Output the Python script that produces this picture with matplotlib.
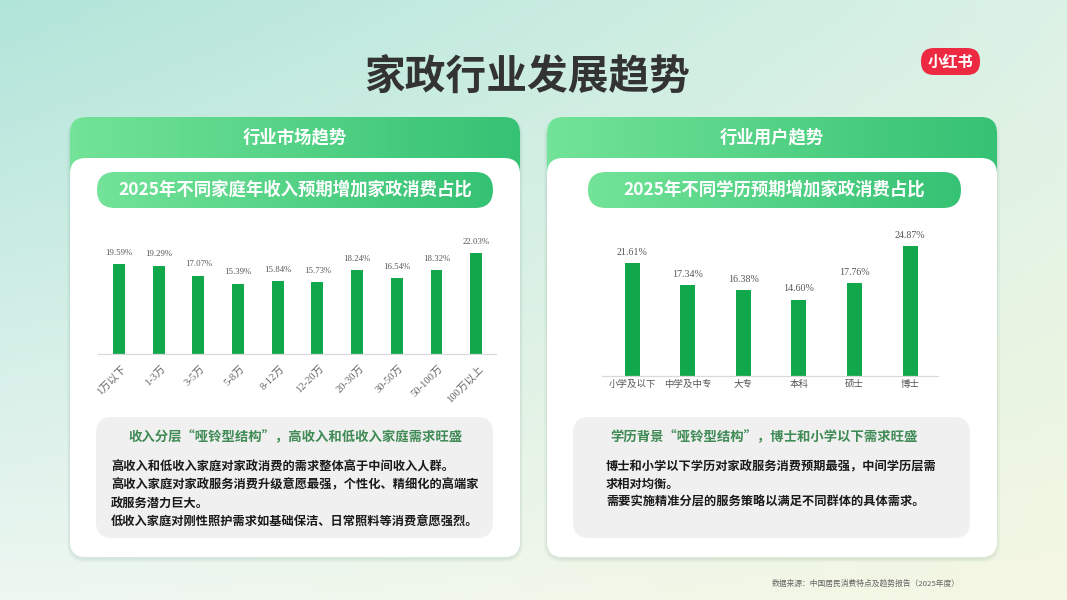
import matplotlib

matplotlib.use("Agg")
import matplotlib.pyplot as plt
import numpy as np
from matplotlib.colors import to_rgb
from matplotlib.patches import FancyBboxPatch

plt.rcParams["font.family"] = ["Noto Sans CJK SC", "DejaVu Sans"]

income_labels = ["1万以下", "1-3万", "3-5万", "5-8万", "8-12万", "12-20万",
                 "20-30万", "30-50万", "50-100万", "100万以上"]
income_values = [19.59, 19.29, 17.07, 15.39, 15.84, 15.73, 18.24, 16.54, 18.32, 22.03]

edu_labels = ["小学及以下", "中学及中专", "大专", "本科", "硕士", "博士"]
edu_values = [21.61, 17.34, 16.38, 14.60, 17.76, 24.87]

title = "家政行业发展趋势"
card_titles = ["行业市场趋势", "行业用户趋势"]
chart_titles = ["2025年不同家庭年收入预期增加家政消费占比", "2025年不同学历预期增加家政消费占比"]
box_heads = ["收入分层“哑铃型结构”，高收入和低收入家庭需求旺盛",
             "学历背景“哑铃型结构”，博士和小学以下需求旺盛"]
box_lines_left = ["高收入和低收入家庭对家政消费的需求整体高于中间收入人群。",
                  "高收入家庭对家政服务消费升级意愿最强，个性化、精细化的高端家",
                  "政服务潜力巨大。",
                  "低收入家庭对刚性照护需求如基础保洁、日常照料等消费意愿强烈。"]
box_lines_right = ["博士和小学以下学历对家政服务消费预期最强，中间学历层需",
                   "求相对均衡。",
                   "需要实施精准分层的服务策略以满足不同群体的具体需求。"]
source = "数据来源：中国居民消费特点及趋势报告（2025年度）"

W, H = 1067, 600
BAR = "#10a84a"
G1, G2 = "#72e398", "#36c274"
NUM_FONT = ["Liberation Serif", "Noto Sans CJK SC"]

fig = plt.figure(figsize=(W / 100, H / 100), dpi=100)
bg = fig.add_axes([0, 0, 1, 1])
bg.set_xlim(0, W)
bg.set_ylim(H, 0)
bg.axis("off")

# background gradient
c_tl, c_tr = np.array(to_rgb("#b2e5da")), np.array(to_rgb("#dcf2e6"))
c_bl, c_br = np.array(to_rgb("#eef7f2")), np.array(to_rgb("#f4f7e2"))
u = np.linspace(0, 1, 200)[None, :, None]
v = np.linspace(0, 1, 120)[:, None, None]
img = (1 - v) * ((1 - u) * c_tl + u * c_tr) + v * ((1 - u) * c_bl + u * c_br)
bg.imshow(img, extent=(0, W, H, 0), aspect="auto", zorder=0)


def rbox(x, y, w, h, r, fc, z=1, **kw):
    p = FancyBboxPatch((x, y), w, h, boxstyle=f"round,pad=0,rounding_size={r}",
                       fc=fc, ec="none", zorder=z, **kw)
    bg.add_patch(p)
    return p


def grad_box(x, y, w, h, r, c1, c2, z=2):
    p = rbox(x, y, w, h, r, "none", z)
    g = np.linspace(0, 1, 100)[None, :, None]
    arr = (1 - g) * np.array(to_rgb(c1)) + g * np.array(to_rgb(c2))
    im = bg.imshow(arr, extent=(x, x + w, y + h, y), aspect="auto", zorder=z)
    im.set_clip_path(p)


bg.text(527, 78, title, ha="center", va="center", fontsize=29.3, fontweight="bold", color="#333333")

# logo
rbox(921, 48, 59, 27, 13, "#ee2a42", 3)
bg.text(950.5, 61.5, "小红书", ha="center", va="center", fontsize=11, fontweight="bold", color="white", zorder=4)

for i, cx in enumerate([70, 547]):
    for k, a in enumerate([0.03, 0.03, 0.04]):
        rbox(cx - 3 + k, 119 - 1 + k, 456 - 2 * k, 444 - 2 * k, 18, "#2a6a50", 1, alpha=a)
    rbox(cx, 117, 450, 440, 16, "white", 2)
    grad_box(cx, 117, 450, 70, 16, G1, G2, z=2.5)
    rbox(cx, 158, 450, 399, 16, "white", 3)
    bg.text(cx + 225, 137, card_titles[i], ha="center", va="center", fontsize=12.5,
            fontweight="bold", color="white", zorder=4)

grad_box(97, 172, 396, 36, 18, G1, G2, z=4)
bg.text(295, 190, chart_titles[0], ha="center", va="center", fontsize=12.5,
        fontweight="bold", color="white", zorder=5)
grad_box(588, 172, 373, 36, 18, G1, G2, z=4)
bg.text(774.5, 190, chart_titles[1], ha="center", va="center", fontsize=12.5,
        fontweight="bold", color="white", zorder=5)

# text boxes
rbox(96, 417, 397, 121, 16, "#f0f0f0", 4)
rbox(573, 417, 397, 121, 16, "#f0f0f0", 4)
bg.text(295, 437, box_heads[0], ha="center", va="center", fontsize=9.6,
        fontweight="bold", color="#3f8a55", zorder=5)
bg.text(764, 437, box_heads[1], ha="center", va="center", fontsize=9.6,
        fontweight="bold", color="#3f8a55", zorder=5)
for line, y in zip(box_lines_left, [467, 485, 503, 522]):
    bg.text(111, y, line, ha="left", va="center", fontsize=8.8, fontweight="bold",
            color="#1a1a1a", zorder=5)
for line, y in zip(box_lines_right, [467, 484, 502]):
    bg.text(606, y, line, ha="left", va="center", fontsize=8.8, fontweight="bold",
            color="#1a1a1a", zorder=5)

bg.text(866, 584, source, ha="center", va="center", fontsize=5.6, color="#666666")


def px_axes(x0, x1, ytop, ybase):
    return fig.add_axes([x0 / W, 1 - ybase / H, (x1 - x0) / W, (ybase - ytop) / H], zorder=6)


def style(ax):
    ax.set_facecolor("none")
    for s in ["top", "right", "left"]:
        ax.spines[s].set_visible(False)
    ax.spines["bottom"].set_color("#d9d9d9")
    ax.spines["bottom"].set_linewidth(0.9)
    ax.set_yticks([])
    ax.tick_params(axis="x", length=0, pad=3)


# left chart
ax1 = px_axes(98, 496, 230, 354)
x1 = np.arange(len(income_values))
ax1.bar(x1, income_values, width=0.3, color=BAR)
ax1.set_xlim(-0.53, 9.5)
ax1.set_ylim(0, 124 / 4.58)
for xi, v in zip(x1, income_values):
    ax1.text(xi, v + 1.6, f"{v:.2f}%", ha="center", va="bottom", fontsize=6.3,
             color="#555555", family=NUM_FONT)
style(ax1)
ax1.tick_params(axis="x", pad=7)
ax1.set_xticks(x1 + 0.05)
ax1.set_xticklabels(income_labels, rotation=45, ha="right", rotation_mode="anchor",
                    fontsize=7.6, color="#666666", family=NUM_FONT)

# right chart
ax2 = px_axes(602, 938, 230, 376)
x2 = np.arange(len(edu_values))
ax2.bar(x2, edu_values, width=0.27, color=BAR)
ax2.set_xlim(-0.54, 5.5)
ax2.set_ylim(0, 146 / 5.23)
for xi, v in zip(x2, edu_values):
    ax2.text(xi, v + 1.2, f"{v:.2f}%", ha="center", va="bottom", fontsize=7.2,
             color="#555555", family=NUM_FONT)
style(ax2)
ax2.set_xticks(x2)
ax2.set_xticklabels(edu_labels, fontsize=6.8, color="#555555", family=NUM_FONT)

fig.savefig("out.png", dpi=100)
